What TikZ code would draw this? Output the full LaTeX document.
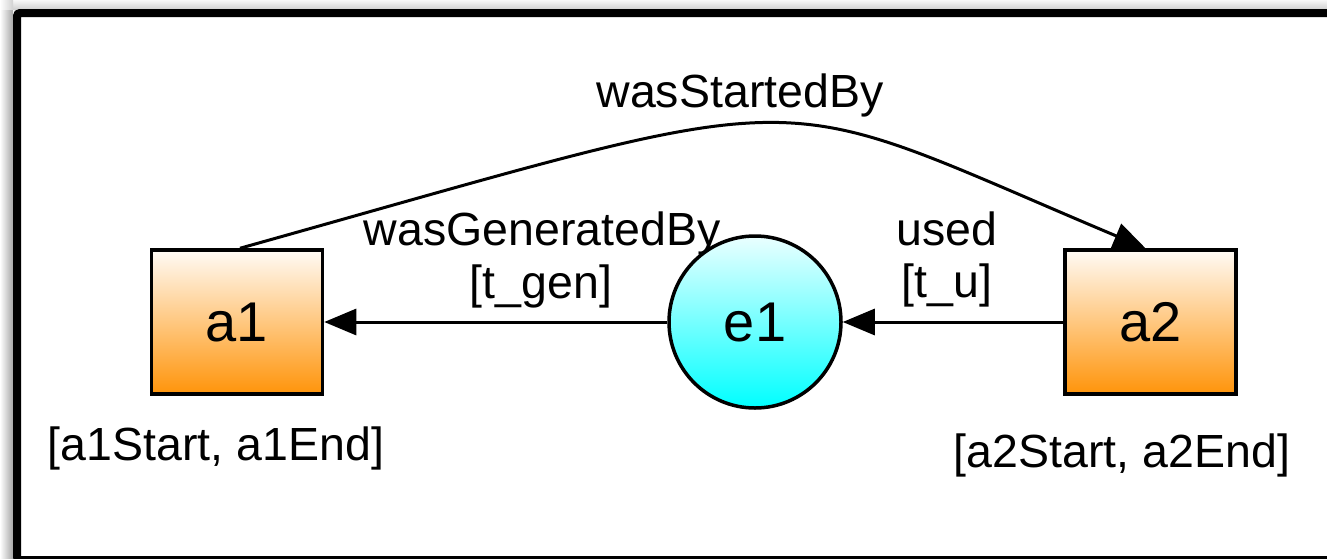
\documentclass[tikz,border=0pt]{standalone}
\usepackage{fontspec}
\setmainfont{Liberation Sans}
\usetikzlibrary{arrows.meta,calc}
\definecolor{actorange}{RGB}{255,148,10}
\definecolor{entcyan}{RGB}{0,255,255}
\begin{document}
\begin{tikzpicture}[x=1pt,y=-1pt,
  every node/.style={font=\fontsize{46.5}{52}\selectfont, text=black},
  activity/.style={rectangle, draw=black, line width=3.5pt,
    minimum width=171pt, minimum height=144pt, inner sep=0pt,
    font=\fontsize{56}{60}\selectfont,
    top color=actorange!4!white, bottom color=actorange},
  entity/.style={circle, draw=black, line width=3.5pt,
    minimum size=172pt, inner sep=0pt,
    font=\fontsize{56}{60}\selectfont,
    top color=entcyan!8!white, bottom color=entcyan},
  rel/.style={line width=3pt, -{Triangle[length=32pt,width=26pt]}},
  lbl/.style={anchor=base, inner sep=0pt}]
\useasboundingbox (0,0) rectangle (1327,558);

% window frame with its soft shadow on the top and left
\begin{scope}
  \clip (0,0) rectangle (1327,558);
  \shade[left color=white, right color=black!35] (0,9) rectangle (13,570);
  \shade[top color=black!3, bottom color=black!18] (13,0) rectangle (1340,9);
  \shade[left color=white, right color=black!18] (0,0) rectangle (13,9);
  \draw[line width=8pt, rounded corners=3pt] (17,13) rectangle (1345,560);
\end{scope}

% activities and entity
\node[activity] (a1) at (237,322) {a1};
\node[entity]   (e1) at (755,322) {e1};
\node[activity] (a2) at (1150.5,322) {a2};

% relations
\draw[rel] (e1) -- (a1);
\draw[rel] (a2) -- (e1);
\draw[rel] ($(a1.north)+(3,0)$) .. controls (837,81) and (755,84) .. ($(a2.north)+(-5,0)$);

% labels
\node[lbl] (lStarted) at (740,107) {wasStartedBy};
\node[lbl] (lGen)     at (542,245) {wasGeneratedBy};
\node[lbl] (lGenT)    at (541,298) {[t\_gen]};
\node[lbl] (lUsed)    at (947,245) {used};
\node[lbl] (lUsedT)   at (947,297) {[t\_u]};
\node[lbl] (a1time)   at (216,460) {[a1Start, a1End]};
\node[lbl] (a2time)   at (1122,467) {[a2Start, a2End]};
\end{tikzpicture}
\end{document}
